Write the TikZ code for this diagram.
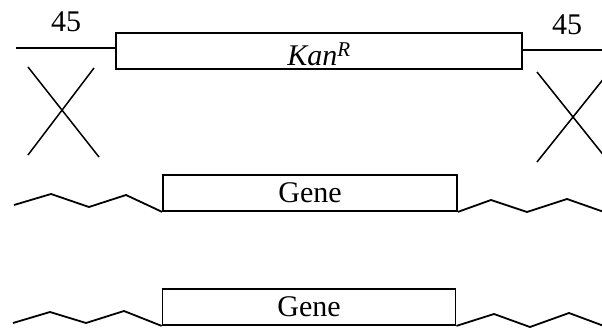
\documentclass[tikz,border=0pt]{standalone}
\usepackage{fontspec}
\setmainfont{Liberation Serif}
\begin{document}
\begin{tikzpicture}[x=1pt,y=-1pt,
  dna/.style={line width=1.8pt, line join=miter},
  genebox/.style={draw, line width=1.8pt, minimum height=36pt, inner sep=0pt, fill=white},
  cross/.style={line width=1.5pt},
  lbl/.style={font=\fontsize{30}{34}\selectfont, inner sep=0pt}]
\useasboundingbox (0,0) rectangle (602,331);
\clip (0,0) rectangle (602,331);

% targeting cassette with 45 bp homology arms
\node[genebox, minimum width=406pt] (kan) at (319,51) {};
\node[lbl, anchor=base] (kanlbl) at (319,66) {\textit{Kan\textsuperscript{R}}};
\coordinate (armL) at (16,48);
\coordinate (armR) at (602,50);
\draw[dna] (armL) -- (armL -| kan.west);
\draw[dna] (armR -| kan.east) -- (armR);
\node[lbl] (fortyfiveL) at (66,22) {45};
\node[lbl] (fortyfiveR) at (567,25) {45};

% crossover marks
\coordinate (xl1) at (28,67);  \coordinate (xl2) at (99,157);
\coordinate (xl3) at (94,68);  \coordinate (xl4) at (28,155);
\draw[cross] (xl1) -- (xl2);
\draw[cross] (xl3) -- (xl4);
\coordinate (xr1) at (537,72);  \coordinate (xr2) at (609,162);
\coordinate (xr3) at (537,162); \coordinate (xr4) at (609,72);
\draw[cross] (xr1) -- (xr2);
\draw[cross] (xr3) -- (xr4);

% chromosomal gene
\node[genebox, minimum width=294pt] (gene1) at (310,193) {};
\node[lbl] (gene1lbl) at (310,193) {Gene};
\coordinate (g1a) at (14,205);
\draw[dna] (g1a) -- (51,194) -- (89,207) -- (126,195) -- (gene1.south west);
\coordinate (g1b) at (604,212);
\draw[dna] (gene1.south east) -- (491,200) -- (527,212) -- (567,199) -- (g1b);

% gene after recombination
\node[genebox, minimum width=293pt] (gene2) at (309,307) {};
\node[lbl] (gene2lbl) at (309,307) {Gene};
\coordinate (g2a) at (13,323);
\draw[dna] (g2a) -- (50,312) -- (86,323) -- (124,311) -- (gene2.south west);
\coordinate (g2b) at (604,326);
\draw[dna] (gene2.south east) -- (494,314) -- (530,327) -- (569,313) -- (g2b);
\end{tikzpicture}
\end{document}
